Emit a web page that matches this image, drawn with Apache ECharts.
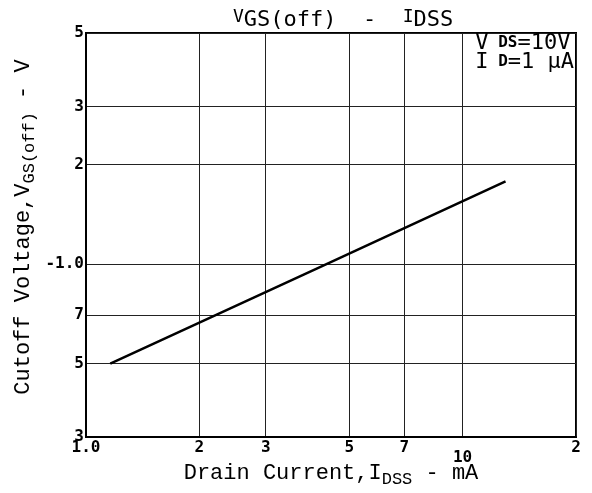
<!DOCTYPE html>
<html>
<head>
<meta charset="utf-8">
<script src="https://cdn.jsdelivr.net/npm/echarts@6/dist/echarts.min.js"></script>
<style>
html, body { margin: 0; background: #fff; }
#chart { width: 592px; height: 493px; }
</style>
</head>
<body>
<div id="chart"></div>
<script>
// ticks on the log axes and the text printed at them
var xTicks = [1, 2, 3, 5, 7, 10, 20]
var xTickLabels = ['1.0', '2', '3', '5', '7', '10', '2']
var yTicks = [0.3, 0.5, 0.7, 1, 2, 3, 5]
var yTickLabels = ['3', '5', '7', '-1.0', '2', '3', '5']

// curve: IDSS (mA) vs |VGS(off)| (V)
var idss = [1.16, 4.35, 13]
var vgsOff = [0.5, 1.0, 1.78]

function pickLabel (ticks, labels, v) {
  for (var i = 0; i < ticks.length; i++) {
    if (Math.abs(Math.log(v) - Math.log(ticks[i])) < 0.01) return labels[i]
  }
  return ''
}

var points = []
for (var i = 0; i < idss.length; i++) {
  points.push([idss[i], vgsOff[i]])
}

var monoSans = 'DejaVu Sans Mono'
var courier = 'Liberation Mono'

var chart = echarts.init(document.getElementById('chart'))
var option = {
  animation: false,
  backgroundColor: '#fff',
  title: {
    left: 228,
    top: 3,
    text: '{a|V}{b|GS(off)  -  }{a|I}{b|DSS}',
    textStyle: {
      fontWeight: 'normal',
      rich: {
        a: { fontFamily: monoSans, fontWeight: 'normal', fontSize: 18, color: '#000', padding: [0, 0, 6, 0] },
        b: { fontFamily: monoSans, fontWeight: 'normal', fontSize: 22, color: '#000' }
      }
    }
  },
  graphic: [{
    type: 'text',
    right: 18,
    top: 32,
    z: 10,
    style: {
      text: '{v|V}{s| DS}{v|=10V}\n{v|I}{s| D}{v|=1 μA}',
      align: 'right',
      rich: {
        v: { fontFamily: monoSans, fontSize: 22, fill: '#000', lineHeight: 19 },
        s: { fontFamily: monoSans, fontSize: 16, fontWeight: 'bold', fill: '#000', lineHeight: 19 }
      }
    }
  }],
  grid: {
    left: 86,
    right: 16,
    top: 33,
    bottom: 56,
    outerBoundsMode: 'none',
    show: true,
    borderColor: '#000',
    borderWidth: 2,
    backgroundColor: 'transparent'
  },
  xAxis: {
    type: 'log',
    logBase: 10,
    min: 1,
    max: 20,
    name: 'Drain Current,I{s|DSS} - mA',
    nameLocation: 'middle',
    nameGap: 22,
    nameMoveOverlap: false,
    nameTextStyle: {
      fontFamily: courier,
      fontSize: 22,
      color: '#000',
      rich: {
        s: { fontFamily: courier, fontSize: 17, color: '#000', padding: [12, 0, 0, 0] }
      }
    },
    axisLine: { show: true, lineStyle: { color: '#000', width: 2 } },
    axisTick: { show: false, customValues: xTicks },
    axisLabel: {
      customValues: xTicks,
      margin: 3,
      fontFamily: monoSans,
      fontWeight: 'bold',
      fontSize: 16,
      color: '#000',
      formatter: function (v) {
        var t = pickLabel(xTicks, xTickLabels, v)
        return t === '10' ? '{lo|10}' : t
      },
      rich: {
        lo: { fontFamily: monoSans, fontWeight: 'bold', fontSize: 16, color: '#000', padding: [10, 0, 0, 0] }
      }
    },
    splitLine: { show: true, lineStyle: { color: '#222', width: 1 } }
  },
  yAxis: {
    type: 'log',
    logBase: 10,
    min: 0.3,
    max: 5,
    name: 'Cutoff Voltage,V{s|GS(off)} - V',
    nameLocation: 'middle',
    nameGap: 48,
    nameMoveOverlap: false,
    nameTextStyle: {
      fontFamily: courier,
      fontSize: 22,
      color: '#000',
      padding: [0, 0, 0, 16],
      rich: {
        s: { fontFamily: courier, fontSize: 17, color: '#000', padding: [12, 0, 0, 0] }
      }
    },
    axisLine: { show: true, lineStyle: { color: '#000', width: 2 } },
    axisTick: { show: false, customValues: yTicks },
    axisLabel: {
      customValues: yTicks,
      margin: 2,
      fontFamily: monoSans,
      fontWeight: 'bold',
      fontSize: 16,
      color: '#000',
      formatter: function (v) {
        return pickLabel(yTicks, yTickLabels, v)
      }
    },
    splitLine: { show: true, lineStyle: { color: '#222', width: 1 } }
  },
  series: [{
    type: 'line',
    data: points,
    showSymbol: false,
    lineStyle: { color: '#000', width: 2.5 },
    z: 5
  }]
}
chart.setOption(option)
</script>
</body>
</html>
